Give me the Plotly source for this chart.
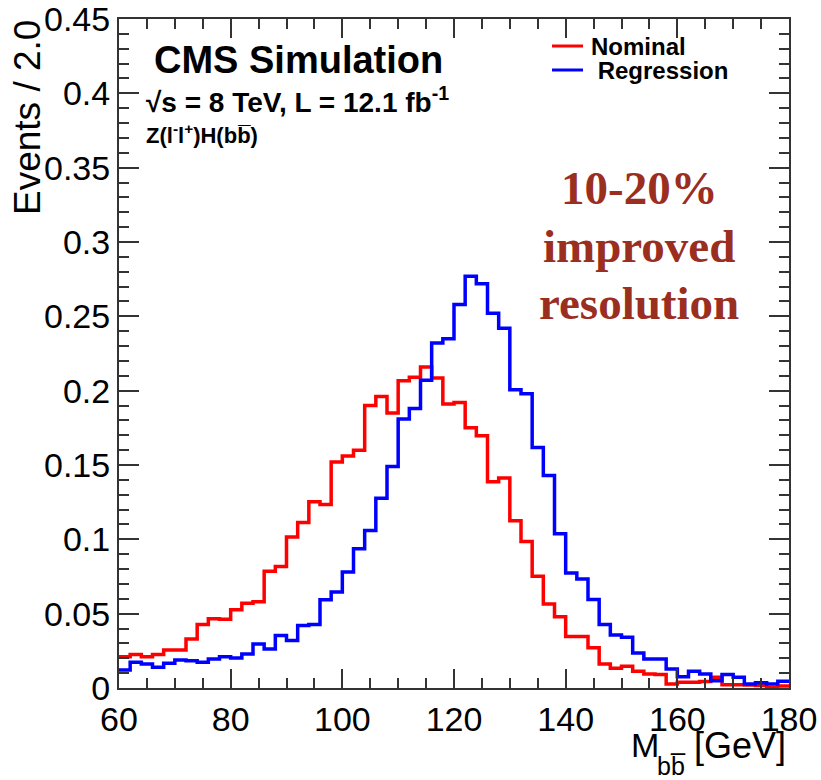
import numpy as np
import plotly.graph_objects as go

# ---------------- data ----------------
bin_low = list(range(60, 180, 2))          # lower edges of 2 GeV bins
x_max = 180

nominal = [0.0210, 0.0225, 0.0210, 0.0225, 0.0256, 0.0256, 0.0330, 0.0427, 0.0465, 0.0463,
           0.0526, 0.0570, 0.0580, 0.0786, 0.0818, 0.1015, 0.1114, 0.1253, 0.1235, 0.1520,
           0.1560, 0.1600, 0.1900, 0.1960, 0.1850, 0.2067, 0.2090, 0.2160, 0.2085, 0.1910,
           0.1920, 0.1750, 0.1696, 0.1388, 0.1413, 0.1125, 0.0986, 0.0752, 0.0565, 0.0480,
           0.0346, 0.0346, 0.0270, 0.0162, 0.0133, 0.0146, 0.0112, 0.0094, 0.0090, 0.0027,
           0.0038, 0.0038, 0.0043, 0.0072, 0.0022, 0.0022, 0.0020, 0.0016, 0.0004, 0.0013]

regression = [0.0121, 0.0173, 0.0162, 0.0139, 0.0166, 0.0189, 0.0184, 0.0173, 0.0195, 0.0211,
              0.0202, 0.0229, 0.0296, 0.0263, 0.0353, 0.0319, 0.0420, 0.0427, 0.0593, 0.0645,
              0.0780, 0.0937, 0.1060, 0.1276, 0.1490, 0.1810, 0.1880, 0.2070, 0.2320, 0.2350,
              0.2580, 0.2770, 0.2720, 0.2520, 0.2420, 0.2006, 0.1980, 0.1617, 0.1430, 0.1038,
              0.0773, 0.0734, 0.0595, 0.0427, 0.0357, 0.0341, 0.0236, 0.0195, 0.0195, 0.0128,
              0.0076, 0.0112, 0.0094, 0.0049, 0.0090, 0.0072, 0.0027, 0.0036, 0.0027, 0.0045]

x_ticks = [60, 80, 100, 120, 140, 160, 180]
y_ticks = [0, 0.05, 0.1, 0.15, 0.2, 0.25, 0.3, 0.35, 0.4, 0.45]
y_tick_text = ["0", "0.05", "0.1", "0.15", "0.2", "0.25", "0.3", "0.35", "0.4", "0.45"]

series = [("Nominal", nominal, "#ff0000"), ("Regression", regression, "#0000ff")]

# ---------------- figure ----------------
W, H = 821, 780
ML, MR, MT, MB = 119, 32, 19, 92
PW, PH = W - ML - MR, H - MT - MB


def px_x(p):
    return (p - ML) / PW


def px_y(p):
    return (H - MB - p) / PH


fig = go.Figure()
for name, vals, col in series:
    fig.add_trace(go.Scatter(
        x=bin_low + [x_max], y=vals + [vals[-1]],
        mode="lines", line=dict(color=col, width=3.5, shape="hv"),
        name=name, showlegend=False, cliponaxis=True))

FONT = "Liberation Sans, Arial, Helvetica, sans-serif"
axcol = "#333333"
fig.update_layout(
    width=W, height=H,
    margin=dict(l=ML, r=MR, t=MT, b=MB, autoexpand=False),
    paper_bgcolor="white", plot_bgcolor="white",
    font=dict(family=FONT, color="black"),
    showlegend=False,
)
fig.update_xaxes(
    range=[60, 180], tickvals=x_ticks, ticktext=[str(v) for v in x_ticks],
    automargin=False, ticklabeloverflow="allow",
    showgrid=False, zeroline=False, showline=True, linecolor=axcol, linewidth=2,
    mirror="allticks", ticks="inside", ticklen=19, tickwidth=1.5, tickcolor=axcol,
    tickfont=dict(size=34, family=FONT), ticklabelstandoff=0,
    minor=dict(dtick=5, ticks="inside", ticklen=10, tickwidth=1.5, tickcolor=axcol, showgrid=False),
)
fig.update_yaxes(
    range=[0, 0.45], tickvals=y_ticks, ticktext=y_tick_text,
    automargin=False, ticklabeloverflow="allow",
    showgrid=False, zeroline=False, showline=True, linecolor=axcol, linewidth=2,
    mirror="allticks", ticks="inside", ticklen=20, tickwidth=1.5, tickcolor=axcol,
    tickfont=dict(size=34, family=FONT),
    minor=dict(dtick=0.01, ticks="inside", ticklen=10, tickwidth=1.5, tickcolor=axcol, showgrid=False),
)

ann = []


def add_text(text, xp, yp, size, xanchor="left", family=FONT, color="black", angle=0):
    ann.append(dict(text=text, x=px_x(xp), y=px_y(yp), xref="paper", yref="paper",
                    showarrow=False, xanchor=xanchor, yanchor="middle", textangle=angle,
                    font=dict(size=size, family=family, color=color)))


# axis titles
add_text("Events / 2.0", 28, 118, 37, xanchor="center", angle=-90)
add_text("M", 629, 745, 34)
add_text("bb\u0305", 655, 766, 25)
add_text("[GeV]", 788, 745, 36, xanchor="right")
# CMS labels
add_text("<b>CMS Simulation</b>", 152, 60, 38)
add_text("<b>\u221as = 8 TeV, L = 12.1 fb<sup>-1</sup></b>", 144, 100, 28)
add_text("<b>Z(l<sup>-</sup>l<sup>+</sup>)H(bb\u0305)</b>", 144, 134, 22)
# legend (manual)
shapes = []
leg = [("Nominal", "#ff0000", 46), ("\u00a0Regression", "#0000ff", 70)]
for txt, col, yy in leg:
    shapes.append(dict(type="line", xref="paper", yref="paper",
                       x0=px_x(552), x1=px_x(583), y0=px_y(yy), y1=px_y(yy),
                       line=dict(color=col, width=3)))
    add_text("<b>" + txt + "</b>", 589, yy + 1, 24)
# red note
SERIF = "Liberation Serif, Times New Roman, serif"
for txt, yy in [("10-20%", 188), ("improved", 246), ("resolution", 303)]:
    add_text("<b>" + txt + "</b>", 639, yy, 47, xanchor="center", family=SERIF, color="#9a2e1f")

fig.update_layout(annotations=ann, shapes=shapes)
fig.write_html("out.html")
